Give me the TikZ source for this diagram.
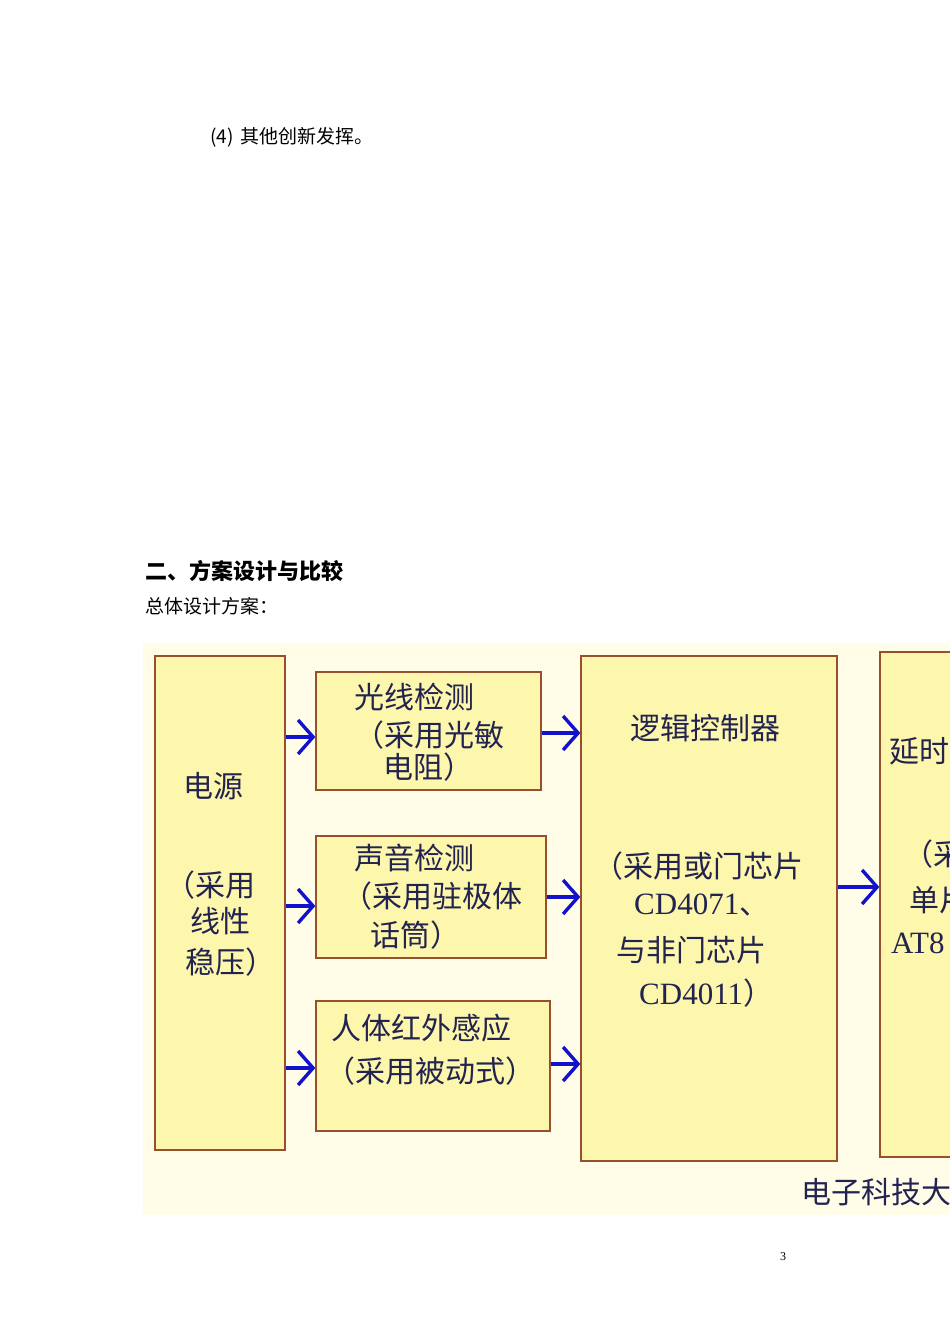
\documentclass[tikz,border=0pt]{standalone}
\usepackage{fontspec}
\newfontfamily\cjk{Noto Sans CJK SC}
\newfontfamily\ser{Liberation Serif}
\usetikzlibrary{arrows.meta}
\definecolor{bgcream}{RGB}{255,253,232}
\definecolor{boxfill}{RGB}{252,247,172}
\definecolor{boxedge}{RGB}{150,80,45}
\definecolor{arrblue}{RGB}{18,18,205}
\definecolor{navy}{RGB}{35,35,80}
\tikzset{
  box/.style={draw=boxedge, fill=boxfill, line width=1.3pt, inner sep=0pt},
  arr/.style={draw=arrblue, line width=3.4pt, -{Straight Barb[length=15pt,width=34pt,line width=3.4pt]}},
  btxt/.style={text=navy, font=\cjk\fontsize{30}{36}\selectfont, inner sep=0pt, anchor=west},
  ltxt/.style={text=navy, font=\ser\fontsize{31}{36}\selectfont, inner sep=0pt, anchor=west},
  ptxt/.style={text=black, font=\cjk\fontsize{19}{22}\selectfont, inner sep=0pt, anchor=west},
}
\begin{document}
\begin{tikzpicture}[x=1pt,y=-1pt]
\useasboundingbox (0,0) rectangle (950,1344);
\clip (0,0) rectangle (950,1344);
\fill[white] (0,0) rectangle (950,1344);
% page text
\node[ptxt] (t4) at (210,137) {(4)\hspace{0.35em}其他创新发挥。};
\node[ptxt, font=\cjk\bfseries\fontsize{22}{26}\selectfont] (h2) at (145,571) {二、方案设计与比较};
\node[ptxt] (zt) at (145,606) {总体设计方案：};
\node[text=black, font=\ser\fontsize{12}{14}\selectfont, inner sep=0pt] (pn) at (783,1257) {3};
% background of the diagram
\fill[bgcream] (143,643) rectangle (950,1215);
% boxes
\node[box, minimum width=130, minimum height=494] (power) at (220,903) {};
\node[box, minimum width=225, minimum height=118] (light) at (428.5,731) {};
\node[box, minimum width=230, minimum height=122] (sound) at (431,897) {};
\node[box, minimum width=234, minimum height=130] (pir) at (433,1066) {};
\node[box, minimum width=256, minimum height=505] (logic) at (709,908.5) {};
\node[box, minimum width=120, minimum height=505] (delay) at (940,904.5) {};
% arrows
\draw[arr] (power.east |- 0,737) -- (light.west |- 0,737);
\draw[arr] (power.east |- 0,906) -- (sound.west |- 0,906);
\draw[arr] (power.east |- 0,1068) -- (pir.west |- 0,1068);
\draw[arr] (light.east |- 0,733) -- (logic.west |- 0,733);
\draw[arr] (sound.east |- 0,897) -- (logic.west |- 0,897);
\draw[arr] (pir.east |- 0,1064) -- (logic.west |- 0,1064);
\draw[arr] (logic.east |- 0,887) -- (delay.west |- 0,887);
% texts in the power box
\node[btxt] (p1) at (183,786) {电源};
\node[btxt] (p2) at (165,885) {（采用};
\node[btxt] (p3) at (190,921) {线性};
\node[btxt] (p4) at (185,962) {稳压）};
% light box
\node[btxt] (l1) at (354,697) {光线检测};
\node[btxt] (l2) at (354,735) {（采用光敏};
\node[btxt] (l3) at (383,767) {电阻）};
% sound box
\node[btxt] (s1) at (354,858) {声音检测};
\node[btxt] (s2) at (342,896) {（采用驻极体};
\node[btxt] (s3) at (370,935) {话筒）};
% pir box
\node[btxt] (r1) at (331,1028) {人体红外感应};
\node[btxt] (r2) at (325,1071) {（采用被动式）};
% logic box
\node[btxt] (g1) at (630,728) {逻辑控制器};
\node[btxt] (g2) at (593,866) {（采用或门芯片};
\node[ltxt] (g3) at (634,905) {CD4071{\cjk\fontsize{30}{36}\selectfont 、}};
\node[btxt] (g4) at (616,950) {与非门芯片};
\node[ltxt] (g5) at (639,993) {CD4011{\cjk\fontsize{30}{36}\selectfont ）}};
% delay box
\node[btxt] (d1) at (889,751) {延时};
\node[btxt] (d2) at (903,854) {（采};
\node[btxt] (d3) at (909,900) {单片};
\node[ltxt] (d4) at (891,943) {AT8};
% footer in the diagram
\node[btxt] (f1) at (801,1192) {电子科技大};
\end{tikzpicture}
\end{document}
